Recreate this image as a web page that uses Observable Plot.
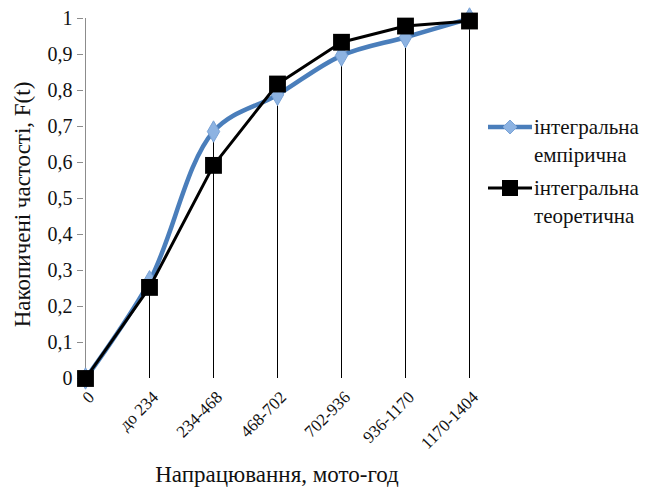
<!DOCTYPE html>
<html>
<head>
<meta charset="utf-8">
<script src="https://cdn.jsdelivr.net/npm/d3@7"></script>
<script src="https://cdn.jsdelivr.net/npm/@observablehq/plot@0.6"></script>
</head>
<body style="margin:0;background:#fff">
<div id="wrap" style="position:relative;width:647px;height:495px;font-family:'Liberation Serif'"></div>
<script>
const categories = ["0", "до 234", "234-468", "468-702", "702-936", "936-1170", "1170-1404"];
const empirical = [0, 0.27, 0.686, 0.788, 0.897, 0.948, 1.0];
const theoretical = [0, 0.253, 0.592, 0.818, 0.934, 0.979, 0.993];
const yTicks = [0, 0.1, 0.2, 0.3, 0.4, 0.5, 0.6, 0.7, 0.8, 0.9, 1];
const seriesNames = ["інтегральна емпірична", "інтегральна теоретична"];
const xTitle = "Напрацювання, мото-год";
const yTitle = "Накопичені частості, F(t)";

const emp = categories.map((c, i) => ({cat: c, v: empirical[i]}));
const theo = categories.map((c, i) => ({cat: c, v: theoretical[i]}));
const drops = categories.map((c, i) => ({cat: c, v: Math.max(empirical[i], theoretical[i])}));

const blue = "#4a7ebb";
const blueFill = "#8db3e2";

const chart = Plot.plot({
  width: 647,
  height: 495,
  marginLeft: 83,
  marginRight: 177,
  marginTop: 18,
  marginBottom: 117,
  style: {fontSize: "16px", color: "#111", background: "#fff"},
  x: {type: "point", domain: categories, padding: 0},
  y: {domain: [0, 1]},
  marks: [
    Plot.ruleY(yTicks, {stroke: "#8c8c8c", strokeWidth: 1, x1: categories[0], x2: categories[categories.length - 1]}),
    Plot.axisY({ticks: yTicks, tickSize: 6, tickPadding: 5, stroke: "#8c8c8c", fontSize: 20,
      tickFormat: d => String(+d.toFixed(1)).replace(".", ","), label: null}),
    Plot.ruleX([categories[0]], {y1: 0, y2: 1, stroke: "#8c8c8c", strokeWidth: 1}),
    Plot.ruleX(drops, {x: "cat", y1: 0, y2: "v", stroke: "#000", strokeWidth: 1}),
    Plot.axisX({tickSize: 0, tickRotate: -45, tickPadding: 16, dx: 6, fontSize: 17, label: null}),
    Plot.line(emp, {x: "cat", y: "v", stroke: blue, strokeWidth: 4.5, curve: "catmull-rom"}),
    Plot.dot(emp, {x: "cat", y: "v", symbol: "diamond", r: 6.5, fill: blueFill, stroke: "#7aa3d6", strokeWidth: 1}),
    Plot.line(theo, {x: "cat", y: "v", stroke: "#000", strokeWidth: 3}),
    Plot.dot(theo, {x: "cat", y: "v", symbol: "square", r: 9.5, fill: "#000", stroke: "none"}),
    Plot.text([yTitle], {frameAnchor: "left", textAnchor: "middle", rotate: -90, dx: -61, dy: 6, fontSize: 23, fill: "#111"}),
    Plot.text([xTitle], {frameAnchor: "bottom", textAnchor: "middle", dy: 103, fontSize: 23, fill: "#111"})
  ]
});

d3.select(chart).style("font-family", "'Liberation Serif'");
d3.select(chart).selectAll("text").style("font-family", "'Liberation Serif'");
d3.select(chart).selectAll("g[aria-label='y-axis tick label'] text").style("font-size", "20px");
d3.select(chart).selectAll("g[aria-label='x-axis tick label'] text").style("font-size", "17px");

const wrap = document.getElementById("wrap");
wrap.appendChild(chart);

function legendItem(name, top, kind) {
  const words = name.split(" ");
  const div = document.createElement("div");
  div.style.cssText = `position:absolute;left:488px;top:${top}px;display:flex;align-items:flex-start;font-size:21px;line-height:28px;color:#111;font-family:'Liberation Serif'`;
  const marker = kind === "emp"
    ? `<line x1="0" y1="14" x2="44" y2="14" stroke="${blue}" stroke-width="4.5"/><path d="M22,7 L29,14 L22,21 L15,14 Z" fill="${blueFill}" stroke="#7aa3d6"/>`
    : `<line x1="0" y1="14" x2="44" y2="14" stroke="#000" stroke-width="3"/><rect x="14" y="6" width="16" height="16" fill="#000"/>`;
  div.innerHTML = `<svg width="44" height="28" style="flex:none;margin-right:2px">${marker}</svg><div>${words[0]}<br>${words[1]}</div>`;
  wrap.appendChild(div);
}
legendItem(seriesNames[0], 113, "emp");
legendItem(seriesNames[1], 174, "theo");
</script>
</body>
</html>
